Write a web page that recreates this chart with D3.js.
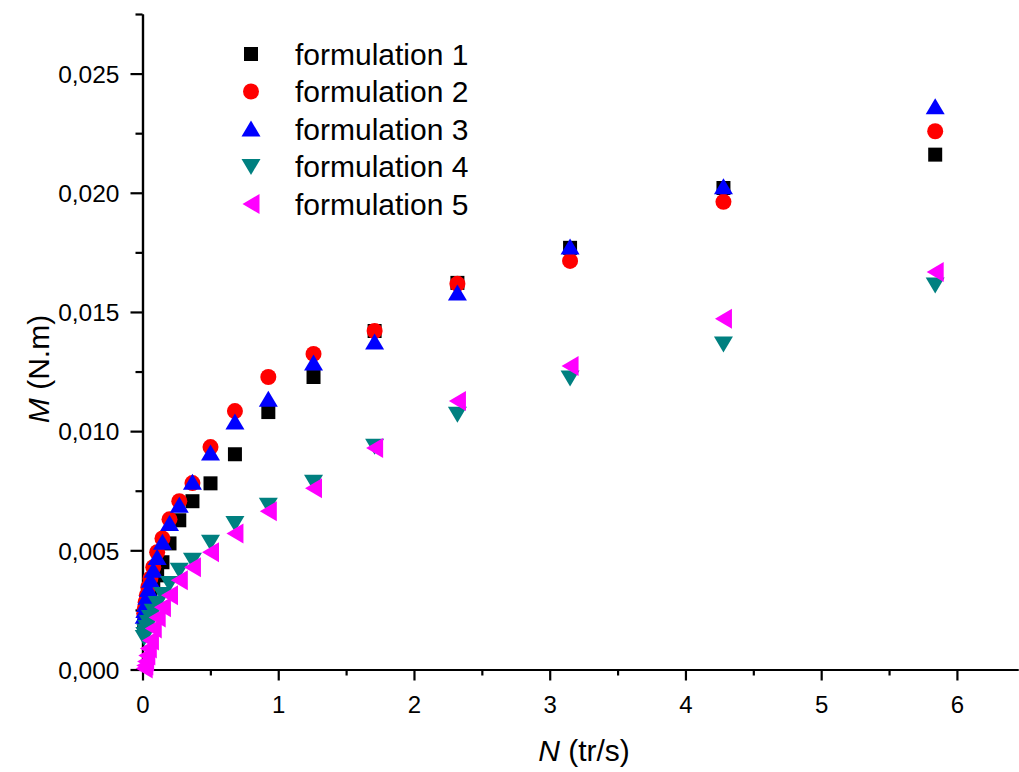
<!DOCTYPE html>
<html>
<head>
<meta charset="utf-8">
<script src="https://cdn.jsdelivr.net/npm/d3@7"></script>
<style>
  html, body { margin: 0; padding: 0; background: #fff; }
  svg { display: block; font-family: "Liberation Sans", Arial, sans-serif; }
</style>
</head>
<body>
<svg id="chart" width="1019" height="772"></svg>
<script>
// ---- data ----
const speedN = [5.84, 4.28, 3.15, 2.32, 1.71, 1.26, 0.927, 0.681, 0.501, 0.368, 0.271, 0.199, 0.147, 0.108, 0.0794, 0.0584, 0.0429, 0.0316, 0.0232, 0.0171, 0.0126];

const form1 = [0.0216, 0.0202, 0.01769, 0.01622, 0.0142, 0.01227, 0.0108, 0.00903, 0.00781, 0.00706, 0.00626, 0.00529, 0.0045, 0.00395, 0.00349, 0.00311, 0.00277, 0.00248, 0.00223, 0.00202, 0.00185];
const form2 = [0.02258, 0.01962, 0.01714, 0.01618, 0.0142, 0.01324, 0.01227, 0.01084, 0.00933, 0.00782, 0.00706, 0.0063, 0.0055, 0.00492, 0.00429, 0.00382, 0.00345, 0.00311, 0.00282, 0.00256, 0.00235];
const form3 = [0.02361, 0.02025, 0.01773, 0.0158, 0.01374, 0.01286, 0.01134, 0.01038, 0.00908, 0.00786, 0.00689, 0.00613, 0.00534, 0.0047, 0.00416, 0.00374, 0.00336, 0.00303, 0.00273, 0.00248, 0.00223];
const form4 = [0.01613, 0.01366, 0.01223, 0.01071, 0.00937, 0.00786, 0.00689, 0.00613, 0.00534, 0.00458, 0.00416, 0.00361, 0.00315, 0.00277, 0.00244, 0.00218, 0.00197, 0.00176, 0.0016, 0.00147, 0.00134];
const form5 = [0.01668, 0.01471, 0.01273, 0.01126, 0.00929, 0.0076, 0.00664, 0.00571, 0.00492, 0.00429, 0.00374, 0.00311, 0.00261, 0.00218, 0.00172, 0.00122, 0.00088, 0.00059, 0.00034, 0.00017, 0.00004];

const seriesNames = ["formulation 1", "formulation 2", "formulation 3", "formulation 4", "formulation 5"];
const xTickValues = [0, 1, 2, 3, 4, 5, 6];
const yTickValues = [0, 0.005, 0.010, 0.015, 0.020, 0.025];

// ---- styling ----
const colors = ["#000000", "#ff0000", "#0000ff", "#008080", "#ff00ff"];
const shapes = [
  "M-7,-7H7V7H-7Z",                       // square
  "M8,0A8,8 0 1,1 -8,0A8,8 0 1,1 8,0Z",    // circle
  "M0,-8.5L9.5,7.5L-9.5,7.5Z",             // up triangle
  "M0,8.5L9.5,-7.5L-9.5,-7.5Z",            // down triangle
  "M-8.5,0L8.5,-10L8.5,10Z"                // left triangle
];
const allSeries = [form1, form2, form3, form4, form5];

const svg = d3.select("#chart");
const x = d3.scaleLinear().domain([0, 6.45]).range([142.5, 1018]);
const y = d3.scaleLinear().domain([0, 0.0275]).range([669.5, 14]);

const fmtY = v => d3.format(".3f")(v).replace(".", ",");

// axes
const xAxis = d3.axisBottom(x).tickValues(xTickValues).tickFormat(d3.format("d")).tickSize(11).tickSizeOuter(0);
const xMinor = d3.axisBottom(x).tickValues([0.5, 1.5, 2.5, 3.5, 4.5, 5.5]).tickFormat("").tickSize(6).tickSizeOuter(0);
const yAxis = d3.axisLeft(y).tickValues(yTickValues).tickFormat(fmtY).tickSize(12).tickSizeOuter(0);
const yMinor = d3.axisLeft(y).tickValues([0.0025, 0.0075, 0.0125, 0.0175, 0.0225, 0.0275]).tickFormat("").tickSize(7).tickSizeOuter(0);

const gx = svg.append("g").attr("transform", `translate(0,${y(0)})`);
gx.call(xAxis);
gx.append("g").call(xMinor);
const gy = svg.append("g").attr("transform", `translate(${x(0)},0)`);
gy.call(yAxis);
gy.append("g").call(yMinor);

svg.selectAll(".domain").attr("stroke", "#000").attr("stroke-width", 2.2);
svg.selectAll(".tick line").attr("stroke", "#000").attr("stroke-width", 2.2);
gx.selectAll(".tick text").attr("font-size", 24).attr("font-family", "Liberation Sans, Arial, sans-serif").attr("fill", "#000").attr("dy", "0").attr("y", 43);
gy.selectAll(".tick text").attr("font-size", 24.5).attr("font-family", "Liberation Sans, Arial, sans-serif").attr("fill", "#000").attr("x", -23).attr("dy", "0.36em");

// points
allSeries.forEach((vals, si) => {
  svg.append("g").selectAll("path")
    .data(vals.map((v, i) => [speedN[i], v]))
    .join("path")
    .attr("d", shapes[si])
    .attr("fill", colors[si])
    .attr("transform", d => `translate(${x(d[0])},${y(d[1])})`);
});

// axis titles
const xt = svg.append("text").attr("x", 584).attr("y", 761).attr("text-anchor", "middle")
  .attr("font-size", 30).attr("fill", "#000");
xt.append("tspan").attr("font-style", "italic").text("N");
xt.append("tspan").text(" (tr/s)");

const yt = svg.append("text").attr("transform", "translate(49,369) rotate(-90)").attr("text-anchor", "middle")
  .attr("font-size", 30).attr("fill", "#000");
yt.append("tspan").attr("font-style", "italic").text("M");
yt.append("tspan").text(" (N.m)");

// legend
const legend = svg.append("g");
seriesNames.forEach((name, i) => {
  const cy = 54 + i * 37.5;
  legend.append("path").attr("d", shapes[i]).attr("fill", colors[i])
    .attr("transform", `translate(251,${cy})`);
  legend.append("text").attr("x", 295).attr("y", cy).attr("dy", "0.36em")
    .attr("font-size", 30).attr("fill", "#000").text(name);
});
</script>
</body>
</html>
